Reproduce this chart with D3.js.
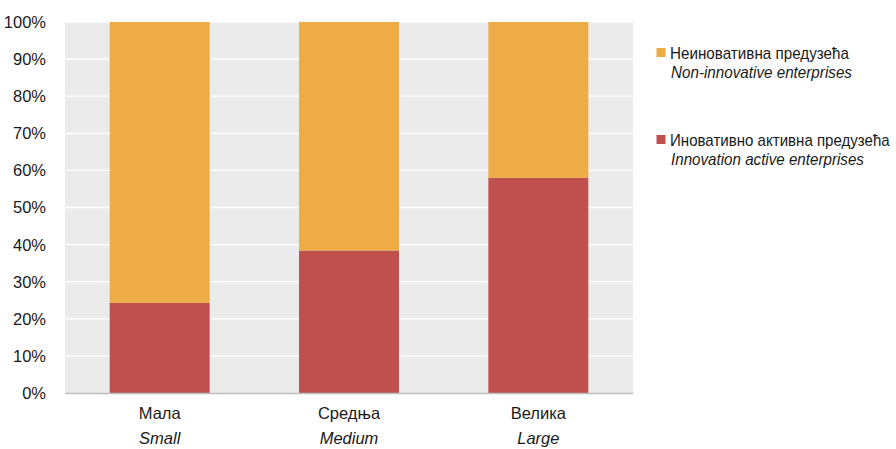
<!DOCTYPE html>
<html>
<head>
<meta charset="utf-8">
<script src="https://cdn.jsdelivr.net/npm/d3@7"></script>
<style>
  body { margin: 0; background: #fff; }
  text { font-family: "Liberation Sans", Arial, sans-serif; fill: #1a1a1a; }
</style>
</head>
<body>
<div id="chart"></div>
<script>
const categories = ["Мала", "Средња", "Велика"];
const categoriesEn = ["Small", "Medium", "Large"];
const innovative = [24.3, 38.4, 58.0];
const nonInnovative = [75.7, 61.6, 42.0];
const seriesNames = ["Иновативно активна предузећа", "Неиновативна предузећа"];
const seriesNamesEn = ["Innovation active enterprises", "Non-innovative enterprises"];
const colors = ["#c0504d", "#edac45"];

const width = 896, height = 449;
const margin = {top: 22, right: 263, bottom: 56, left: 65};
const w = width - margin.left - margin.right;
const h = height - margin.top - margin.bottom;

const rows = categories.map((c, i) => ({cat: c, en: categoriesEn[i], inn: innovative[i], non: nonInnovative[i]}));
const stack = d3.stack().keys(["inn", "non"])(rows);

const x = d3.scaleBand().domain(categories).range([0, w]).paddingInner(0.472).paddingOuter(0.236);
const y = d3.scaleLinear().domain([0, 100]).range([h, 0]);

const svg = d3.select("#chart").append("svg")
    .attr("width", width)
    .attr("height", height)
    .append("g")
    .attr("transform", `translate(${margin.left},${margin.top})`);

svg.append("rect")
    .attr("width", w)
    .attr("height", h)
    .attr("fill", "#ebebeb");

// gridlines
svg.append("g")
    .selectAll("line")
    .data(d3.range(10, 101, 10))
    .join("line")
    .attr("x1", 0)
    .attr("x2", w)
    .attr("y1", d => y(d))
    .attr("y2", d => y(d))
    .attr("stroke", "#fff")
    .attr("stroke-width", 1.3);

svg.append("g")
    .selectAll("g")
    .data(stack)
    .join("g")
    .attr("fill", (d, i) => colors[i])
    .selectAll("rect")
    .data(d => d)
    .join("rect")
    .attr("x", d => x(d.data.cat))
    .attr("y", d => y(d[1]))
    .attr("height", d => y(d[0]) - y(d[1]))
    .attr("width", x.bandwidth());

// bottom axis line
svg.append("line")
    .attr("x1", 0)
    .attr("x2", w)
    .attr("y1", h + 0.5)
    .attr("y2", h + 0.5)
    .attr("stroke", "#bfbfbf")
    .attr("stroke-width", 1.5);

// y ticks
svg.append("g")
    .selectAll("text")
    .data(d3.range(0, 101, 10))
    .join("text")
    .attr("x", -19)
    .attr("y", d => y(d))
    .attr("dy", "0.36em")
    .attr("text-anchor", "end")
    .style("font-size", "16.5px")
    .text(d => d + "%");

// x labels
const xl = svg.append("g")
    .selectAll("g")
    .data(rows)
    .join("g")
    .attr("transform", d => `translate(${x(d.cat) + x.bandwidth() / 2},${h})`);
xl.append("text")
    .attr("y", 26)
    .attr("text-anchor", "middle")
    .style("font-size", "16.5px")
    .text(d => d.cat);
xl.append("text")
    .attr("y", 51)
    .attr("text-anchor", "middle")
    .style("font-size", "16.5px")
    .style("font-style", "italic")
    .text(d => d.en);

// legend (non-innovative first); lines squeezed to the reference's narrow lettering
const legendY = [58.5, 145.5];
const nameLen = {1: 179, 0: 220};
const enLen = {1: 181, 0: 193};
const legend = svg.append("g")
    .attr("transform", `translate(${656 - margin.left},${-margin.top})`)
    .selectAll("g")
    .data([1, 0])
    .join("g")
    .attr("transform", (d, i) => `translate(0,${legendY[i]})`);
legend.append("rect")
    .attr("x", 0.5)
    .attr("y", -10.5)
    .attr("width", 9)
    .attr("height", 9)
    .attr("fill", d => colors[d]);

function fitLine(sel, dx, dy, italic, label, len) {
    sel.append("text")
        .style("font-size", "16px")
        .style("font-style", italic ? "italic" : "normal")
        .text(label)
        .attr("transform", function(d) {
            const k = len(d) / this.getComputedTextLength();
            return `translate(${dx},${dy}) scale(${k},1)`;
        });
}
fitLine(legend, 14, 0, false, d => seriesNames[d], d => nameLen[d]);
fitLine(legend, 15, 19.2, true, d => seriesNamesEn[d], d => enLen[d]);
</script>
</body>
</html>
